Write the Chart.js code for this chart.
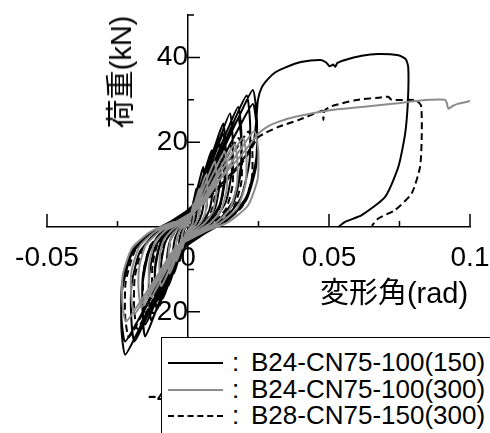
<!DOCTYPE html>
<html>
<head>
<meta charset="utf-8">
<script src="https://cdn.jsdelivr.net/npm/chart.js@4.4.1/dist/chart.umd.min.js"></script>
<style>
  html, body { margin: 0; padding: 0; background: #fff; overflow: hidden; }
  #wrap { position: relative; width: 490px; height: 433px; overflow: hidden; }
  #chart { position: absolute; left: 0; top: 0; }
  .lbl { position: absolute; font-family: "Liberation Sans", "Noto Sans CJK JP", sans-serif; color: #000; white-space: nowrap; }
  #ytitle { font-size: 29px; left: 118px; top: 72px; transform: translate(-50%, -50%) rotate(-90deg); }
  #xtitle { font-size: 29px; left: 394px; top: 290px; transform: translate(-50%, -50%); }
  #legend { position: absolute; left: 161px; top: 337px; width: 340px; height: 120px; border: 1.5px solid #000; background: #fff; }
  .row { position: absolute; left: 0; height: 26px; }
  .sample { position: absolute; left: 6px; width: 55px; top: 13px; border-top-width: 2px; }
  .colon { position: absolute; left: 70px; top: 0; font-size: 26px; line-height: 26px; }
  .name { position: absolute; left: 89px; top: 0; font-size: 26px; line-height: 26px; }
</style>
</head>
<body>
<div id="wrap">
  <canvas id="chart" width="490" height="445"></canvas>
  <div id="ytitle" class="lbl">荷重(kN)</div>
  <div id="xtitle" class="lbl">変形角(rad)</div>
  <div id="legend" class="lbl"></div>
</div>
<script>
// ===============================
// DATA
// ===============================
const seriesNames = ["B24-CN75-100(150)", "B24-CN75-100(300)", "B28-CN75-150(300)"];

const xTicks = [-0.05, 0, 0.05, 0.1];
const xMinor = [-0.025, 0.025, 0.075];
const yTicks = [-40, -20, 20, 40];
const yMinor = [-30, -10, 10, 30, 50];

// B24-CN75-100(150): cyclic part
const b150Loops = [
  [0, 0],
  [0.0003, 1.1], [0.0008, 2.6], [0.0012, 4.1], [0.0015, 5], [0.0016, 4], [0.0016, 2.5], [0.0014, 1.1], [0.0009, 0.3], [0.0004, -0.3],
  [-0.0003, -0.9], [-0.0008, -2.1], [-0.0012, -3.3], [-0.0015, -4], [-0.0016, -3.2], [-0.0016, -2], [-0.0014, -0.9], [-0.0009, -0.2], [-0.0004, 0.2],
  [0.0006, 2], [0.0015, 4.7], [0.0024, 7.4], [0.003, 9], [0.0032, 7.2], [0.0032, 4.5], [0.0027, 2], [0.0018, 0.5], [0.0008, -0.5],
  [-0.0006, -1.8], [-0.0015, -4.2], [-0.0024, -6.6], [-0.003, -8], [-0.0032, -6.4], [-0.0032, -4], [-0.0027, -1.8], [-0.0018, -0.4], [-0.0008, 0.4],
  [0.0011, 3.1], [0.0027, 7.4], [0.0043, 11.6], [0.0054, 14.2], [0.0057, 11.4], [0.0057, 7.1], [0.0049, 3.1], [0.0032, 0.7], [0.0014, -0.7],
  [-0.001, -2.4], [-0.0025, -5.7], [-0.004, -9], [-0.005, -11], [-0.0053, -8.8], [-0.0053, -5.5], [-0.0045, -2.4], [-0.003, -0.6], [-0.0013, 0.6],
  [0.0017, 4], [0.0042, 9.4], [0.0067, 14.8], [0.0084, 18.1], [0.0089, 14.5], [0.0088, 9.1], [0.0076, 4], [0.005, 0.9], [0.0021, -0.9],
  [-0.0014, -3.1], [-0.0035, -7.3], [-0.0056, -11.5], [-0.007, -14], [-0.0074, -11.2], [-0.0074, -7], [-0.0063, -3.1], [-0.0042, -0.7], [-0.0018, 0.7],
  [0.0022, 4.6], [0.0054, 10.9], [0.0086, 17.1], [0.0108, 20.9], [0.0114, 16.7], [0.0113, 10.5], [0.0097, 4.6], [0.0065, 1], [0.0027, -1],
  [-0.0018, -3.7], [-0.0045, -8.8], [-0.0072, -13.9], [-0.009, -17], [-0.0095, -13.6], [-0.0095, -8.5], [-0.0081, -3.7], [-0.0054, -0.9], [-0.0023, 0.9],
  [0.0025, 5.4], [0.0063, 12.7], [0.01, 20], [0.0125, 24.4], [0.0133, 19.5], [0.0131, 12.2], [0.0113, 5.4], [0.0075, 1.2], [0.0031, -1.2],
  [-0.0022, -4.3], [-0.0055, -10.1], [-0.0088, -16], [-0.011, -19.5], [-0.0117, -15.6], [-0.0116, -9.8], [-0.0099, -4.3], [-0.0066, -1], [-0.0028, 1],
  [0.0025, 4.8], [0.0063, 11.4], [0.01, 18], [0.0125, 22], [0.0133, 17.6], [0.0131, 11], [0.0113, 4.8], [0.0075, 1.1], [0.0031, -1.1],
  [-0.0022, -3.9], [-0.0055, -9.1], [-0.0088, -14.4], [-0.011, -17.5], [-0.0117, -14], [-0.0116, -8.8], [-0.0099, -3.9], [-0.0066, -0.9], [-0.0028, 0.9],
  [0.003, 5.9], [0.0075, 13.9], [0.0119, 22], [0.0149, 26.8], [0.0158, 21.4], [0.0156, 13.4], [0.0134, 5.9], [0.0089, 1.3], [0.0037, -1.3],
  [-0.0026, -4.8], [-0.0065, -11.4], [-0.0104, -18], [-0.013, -22], [-0.0138, -17.6], [-0.0137, -11], [-0.0117, -4.8], [-0.0078, -1.1], [-0.0033, 1.1],
  [0.0036, 6.2], [0.0089, 14.7], [0.0142, 23.2], [0.0178, 28.3], [0.0189, 22.6], [0.0187, 14.2], [0.016, 6.2], [0.0107, 1.4], [0.0045, -1.4],
  [-0.003, -5.7], [-0.0076, -13.4], [-0.0122, -21.2], [-0.0152, -25.8], [-0.0161, -20.6], [-0.016, -12.9], [-0.0137, -5.7], [-0.0091, -1.3], [-0.0038, 1.3],
  [0.0036, 5.6], [0.0089, 13.3], [0.0142, 20.9], [0.0178, 25.5], [0.0189, 20.4], [0.0187, 12.8], [0.016, 5.6], [0.0107, 1.3], [0.0045, -1.3],
  [-0.003, -5.1], [-0.0076, -12], [-0.0122, -18.9], [-0.0152, -23], [-0.0161, -18.4], [-0.016, -11.5], [-0.0137, -5.1], [-0.0091, -1.2], [-0.0038, 1.2],
  [0.0042, 6.8], [0.0104, 16.1], [0.0166, 25.4], [0.0208, 31], [0.022, 24.8], [0.0218, 15.5], [0.0187, 6.8], [0.0125, 1.6], [0.0052, -1.6],
  [-0.0038, -5.9], [-0.0095, -14], [-0.0152, -22.1], [-0.019, -27], [-0.0201, -21.6], [-0.02, -13.5], [-0.0171, -5.9], [-0.0114, -1.4], [-0.0048, 1.4],
  [0.0046, 7.1], [0.0115, 16.8], [0.0184, 26.5], [0.023, 32.3], [0.0244, 25.8], [0.0242, 16.2], [0.0207, 7.1], [0.0138, 1.6], [0.0058, -1.6],
  [-0.0045, -6.6], [-0.0112, -15.7], [-0.0178, -24.7], [-0.0223, -30.1], [-0.0236, -24.1], [-0.0234, -15.1], [-0.0201, -6.6], [-0.0134, -1.5], [-0.0056, 1.5],
  [0.0046, 6.4], [0.0115, 15.1], [0.0184, 23.8], [0.023, 29], [0.0244, 23.2], [0.0242, 14.5], [0.0207, 6.4], [0.0138, 1.5], [0.0058, -1.5],
  [-0.0045, -5.9], [-0.0112, -14], [-0.0178, -22.1], [-0.0223, -27], [-0.0236, -21.6], [-0.0234, -13.5], [-0.0201, -5.9], [-0.0134, -1.4], [-0.0056, 1.4]
];
// B24-CN75-100(150): last push
const b150Pull = [
  [0, 2.5], [0.006, 6.5], [0.013, 11], [0.019, 15.5], [0.0232, 20], [0.0242, 25], [0.0248, 30], [0.0262, 33],
  [0.0285, 35], [0.031, 36.5], [0.0344, 37.6], [0.04, 38.9], [0.047, 39.4], [0.049, 38.8], [0.0502, 37.9],
  [0.0515, 38.3], [0.0522, 37.8], [0.053, 38.7], [0.0557, 39.4], [0.0616, 40.4], [0.0675, 40.8], [0.0746, 40.5],
  [0.0772, 39.6], [0.0781, 37.7], [0.078, 30], [0.077, 22], [0.0746, 14.2], [0.0699, 7.1], [0.0616, 2.8],
  [0.0557, 1.2], [0.0533, 0]
];

// B24-CN75-100(300)
const b300Loops = [
  [0, 0],
  [0.0004, 1.2], [0.001, 2.9], [0.0016, 4.5], [0.002, 5.5], [0.0021, 4.4], [0.0021, 2.8], [0.0018, 1.2], [0.0012, 0.3], [0.0005, -0.3],
  [-0.0004, -1.1], [-0.001, -2.6], [-0.0016, -4.1], [-0.002, -5], [-0.0021, -4], [-0.0021, -2.5], [-0.0018, -1.1], [-0.0012, -0.3], [-0.0005, 0.3],
  [0.0008, 2], [0.002, 4.7], [0.0032, 7.4], [0.004, 9], [0.0042, 7.2], [0.0042, 4.5], [0.0036, 2], [0.0024, 0.5], [0.001, -0.5],
  [-0.0008, -1.8], [-0.002, -4.2], [-0.0032, -6.6], [-0.004, -8], [-0.0042, -6.4], [-0.0042, -4], [-0.0036, -1.8], [-0.0024, -0.4], [-0.001, 0.4],
  [0.0013, 2.8], [0.0033, 6.5], [0.0052, 10.3], [0.0065, 12.5], [0.0069, 10], [0.0068, 6.3], [0.0059, 2.8], [0.0039, 0.6], [0.0016, -0.6],
  [-0.0013, -2.4], [-0.0033, -5.7], [-0.0052, -9], [-0.0065, -11], [-0.0069, -8.8], [-0.0068, -5.5], [-0.0059, -2.4], [-0.0039, -0.6], [-0.0016, 0.6],
  [0.0019, 3.4], [0.0048, 8.1], [0.0076, 12.7], [0.0095, 15.5], [0.0101, 12.4], [0.01, 7.8], [0.0086, 3.4], [0.0057, 0.8], [0.0024, -0.8],
  [-0.0019, -3.1], [-0.0048, -7.3], [-0.0076, -11.5], [-0.0095, -14], [-0.0101, -11.2], [-0.01, -7], [-0.0086, -3.1], [-0.0057, -0.7], [-0.0024, 0.7],
  [0.0026, 3.9], [0.0065, 9.3], [0.0104, 14.6], [0.013, 17.8], [0.0138, 14.2], [0.0137, 8.9], [0.0117, 3.9], [0.0078, 0.9], [0.0033, -0.9],
  [-0.0026, -3.6], [-0.0065, -8.6], [-0.0104, -13.5], [-0.013, -16.5], [-0.0138, -13.2], [-0.0137, -8.3], [-0.0117, -3.6], [-0.0078, -0.8], [-0.0033, 0.8],
  [0.0033, 4.3], [0.0083, 10.1], [0.0132, 16], [0.0165, 19.5], [0.0175, 15.6], [0.0173, 9.8], [0.0149, 4.3], [0.0099, 1], [0.0041, -1],
  [-0.0033, -4.2], [-0.0083, -9.9], [-0.0132, -15.6], [-0.0165, -19], [-0.0175, -15.2], [-0.0173, -9.5], [-0.0149, -4.2], [-0.0099, -1], [-0.0041, 1],
  [0.0039, 4.6], [0.0098, 10.9], [0.0156, 17.2], [0.0195, 21], [0.0207, 16.8], [0.0205, 10.5], [0.0176, 4.6], [0.0117, 1.1], [0.0049, -1.1],
  [-0.0038, -4.5], [-0.0095, -10.7], [-0.0152, -16.8], [-0.019, -20.5], [-0.0201, -16.4], [-0.02, -10.3], [-0.0171, -4.5], [-0.0114, -1], [-0.0048, 1],
  [0.0047, 5], [0.0118, 11.8], [0.0188, 18.5], [0.0235, 22.6], [0.0249, 18.1], [0.0247, 11.3], [0.0212, 5], [0.0141, 1.1], [0.0059, -1.1],
  [-0.0044, -4.9], [-0.011, -11.6], [-0.0176, -18.3], [-0.022, -22.3], [-0.0233, -17.8], [-0.0231, -11.2], [-0.0198, -4.9], [-0.0132, -1.1], [-0.0055, 1.1]
];
const b300Pull = [
  [0, 2], [0.006, 7], [0.013, 12.5], [0.019, 17], [0.0226, 20], [0.0249, 22], [0.0285, 23.8], [0.032, 24.8],
  [0.038, 26], [0.0498, 27.5], [0.0616, 28.3], [0.0734, 29.1], [0.0817, 29.8], [0.0911, 30], [0.0918, 29.2],
  [0.0923, 27.9], [0.094, 28.6], [0.0959, 29.1], [0.1, 29.7]
];

// B28-CN75-150(300)
const b28Loops = [
  [0, 0],
  [0.0004, 1.1], [0.001, 2.6], [0.0016, 4.1], [0.002, 5], [0.0021, 4], [0.0021, 2.5], [0.0018, 1.1], [0.0012, 0.3], [0.0005, -0.3],
  [-0.0004, -1], [-0.001, -2.3], [-0.0016, -3.7], [-0.002, -4.5], [-0.0021, -3.6], [-0.0021, -2.3], [-0.0018, -1], [-0.0012, -0.2], [-0.0005, 0.2],
  [0.0008, 1.9], [0.002, 4.4], [0.0032, 7], [0.004, 8.5], [0.0042, 6.8], [0.0042, 4.3], [0.0036, 1.9], [0.0024, 0.4], [0.001, -0.4],
  [-0.0008, -1.8], [-0.002, -4.2], [-0.0032, -6.6], [-0.004, -8], [-0.0042, -6.4], [-0.0042, -4], [-0.0036, -1.8], [-0.0024, -0.4], [-0.001, 0.4],
  [0.0013, 2.6], [0.0033, 6.2], [0.0052, 9.8], [0.0065, 12], [0.0069, 9.6], [0.0068, 6], [0.0059, 2.6], [0.0039, 0.6], [0.0016, -0.6],
  [-0.0013, -2.5], [-0.0033, -6], [-0.0052, -9.4], [-0.0065, -11.5], [-0.0069, -9.2], [-0.0068, -5.8], [-0.0059, -2.5], [-0.0039, -0.6], [-0.0016, 0.6],
  [0.0018, 3.3], [0.0045, 7.8], [0.0072, 12.3], [0.009, 15], [0.0095, 12], [0.0095, 7.5], [0.0081, 3.3], [0.0054, 0.8], [0.0023, -0.8],
  [-0.0018, -3.3], [-0.0045, -7.8], [-0.0072, -12.3], [-0.009, -15], [-0.0095, -12], [-0.0095, -7.5], [-0.0081, -3.3], [-0.0054, -0.8], [-0.0023, 0.8],
  [0.0024, 3.9], [0.006, 9.1], [0.0096, 14.4], [0.012, 17.5], [0.0127, 14], [0.0126, 8.8], [0.0108, 3.9], [0.0072, 0.9], [0.003, -0.9],
  [-0.0024, -4], [-0.006, -9.4], [-0.0096, -14.8], [-0.012, -18], [-0.0127, -14.4], [-0.0126, -9], [-0.0108, -4], [-0.0072, -0.9], [-0.003, 0.9],
  [0.003, 4.3], [0.0075, 10.1], [0.012, 16], [0.015, 19.5], [0.0159, 15.6], [0.0158, 9.8], [0.0135, 4.3], [0.009, 1], [0.0038, -1],
  [-0.003, -4.6], [-0.0075, -10.9], [-0.012, -17.2], [-0.015, -21], [-0.0159, -16.8], [-0.0158, -10.5], [-0.0135, -4.6], [-0.009, -1.1], [-0.0038, 1.1],
  [0.0036, 4.6], [0.009, 10.9], [0.0144, 17.2], [0.018, 21], [0.0191, 16.8], [0.0189, 10.5], [0.0162, 4.6], [0.0108, 1.1], [0.0045, -1.1],
  [-0.0036, -5.3], [-0.009, -12.5], [-0.0144, -19.7], [-0.018, -24], [-0.0191, -19.2], [-0.0189, -12], [-0.0162, -5.3], [-0.0108, -1.2], [-0.0045, 1.2],
  [0.0043, 5], [0.0108, 11.7], [0.0172, 18.5], [0.0215, 22.5], [0.0228, 18], [0.0226, 11.3], [0.0194, 5], [0.0129, 1.1], [0.0054, -1.1],
  [-0.0042, -5.7], [-0.0105, -13.5], [-0.0168, -21.3], [-0.021, -26], [-0.0223, -20.8], [-0.0221, -13], [-0.0189, -5.7], [-0.0126, -1.3], [-0.0053, 1.3]
];
const b28Pull = [
  [0, 2], [0.006, 6], [0.013, 10.5], [0.019, 15], [0.0225, 18.5], [0.0249, 21.2], [0.032, 23.6], [0.0391, 25.2],
  [0.0462, 27.1], [0.0478, 27.4], [0.048, 25.2], [0.0484, 27.4], [0.051, 28.5], [0.0592, 29.9], [0.0675, 30.5],
  [0.071, 30.7], [0.0722, 30], [0.0805, 29.9], [0.0826, 28.7], [0.0829, 22], [0.0823, 14.2], [0.0793, 7.9],
  [0.0734, 4], [0.0675, 2], [0.0652, 0.3]
];

// ===============================
// STYLE
// ===============================
const FONT = "'Liberation Sans', Arial, sans-serif";
const GRAY = "#8c8c8c";

function toPts(list) {
  return list.map(p => ({ x: p[0], y: p[1] }));
}

// no extra room for the labels at the axis ends
function noPad(s) {
  s.paddingLeft = 0; s.paddingRight = 0; s.paddingTop = 0; s.paddingBottom = 0;
}

// inward tick marks on the centered axes
const tickMarks = {
  id: "tickMarks",
  beforeDatasetsDraw(chart) {
    const { ctx, scales: { x, y } } = chart;
    const x0 = x.getPixelForValue(0);
    const y0 = y.getPixelForValue(0);
    ctx.save();
    ctx.strokeStyle = "#000";
    ctx.lineWidth = 1.5;
    ctx.beginPath();
    xTicks.forEach(v => { const px = x.getPixelForValue(v); ctx.moveTo(px, y0); ctx.lineTo(px, y0 - 13); });
    xMinor.forEach(v => { const px = x.getPixelForValue(v); ctx.moveTo(px, y0); ctx.lineTo(px, y0 - 6); });
    yTicks.forEach(v => { const py = y.getPixelForValue(v); ctx.moveTo(x0, py); ctx.lineTo(x0 + 12, py); });
    yMinor.forEach(v => { const py = y.getPixelForValue(v); ctx.moveTo(x0, py); ctx.lineTo(x0 + 6, py); });
    ctx.stroke();
    ctx.restore();
  }
};

new Chart(document.getElementById("chart"), {
  type: "scatter",
  data: {
    datasets: [
      {
        label: seriesNames[0],
        data: toPts(b150Loops.concat(b150Pull)),
        showLine: true, borderColor: "#000", borderWidth: 2, pointRadius: 0, tension: 0.2, order: 1
      },
      {
        label: seriesNames[1],
        data: toPts(b300Loops.concat(b300Pull)),
        showLine: true, borderColor: GRAY, borderWidth: 2, pointRadius: 0, tension: 0.2, order: 0
      },
      {
        label: seriesNames[2],
        data: toPts(b28Loops.concat(b28Pull)),
        showLine: true, borderColor: "#000", borderWidth: 2, borderDash: [7, 4], pointRadius: 0, tension: 0.2, order: 2
      }
    ]
  },
  options: {
    responsive: false,
    animation: false,
    devicePixelRatio: 1,
    layout: { padding: { left: 47, right: 20, top: 15, bottom: 6 } },
    plugins: { legend: { display: false }, tooltip: { enabled: false } },
    scales: {
      x: {
        type: "linear", min: -0.05, max: 0.1, position: { y: 0 },
        afterBuildTicks: s => { s.ticks = xTicks.map(v => ({ value: v })); },
        afterFit: noPad,
        grid: { display: false },
        border: { display: true, color: "#000", width: 1.5 },
        ticks: { color: "#000", font: { family: FONT, size: 28 }, padding: 6, maxRotation: 0, autoSkip: false,
          callback: v => String(v) }
      },
      y: {
        type: "linear", min: -50, max: 50, position: { x: 0 },
        afterBuildTicks: s => { s.ticks = yTicks.map(v => ({ value: v })); },
        afterFit: noPad,
        grid: { display: false },
        border: { display: true, color: "#000", width: 1.5 },
        ticks: { color: "#000", font: { family: FONT, size: 28 }, padding: 5, autoSkip: false,
          callback: v => String(v) }
      }
    }
  },
  plugins: [tickMarks]
});

// ===============================
// LEGEND
// ===============================
const legendEl = document.getElementById("legend");
const sampleStyles = ["solid #000", "solid " + GRAY, "dashed #000"];
seriesNames.forEach((name, i) => {
  const row = document.createElement("div");
  row.className = "row";
  row.style.top = (11 + i * 26.5) + "px";
  row.style.width = "340px";
  row.innerHTML = `<div class="sample" style="border-top:2px ${sampleStyles[i]}"></div>` +
    `<div class="colon">:</div><div class="name">${name}</div>`;
  legendEl.appendChild(row);
});
</script>
</body>
</html>
